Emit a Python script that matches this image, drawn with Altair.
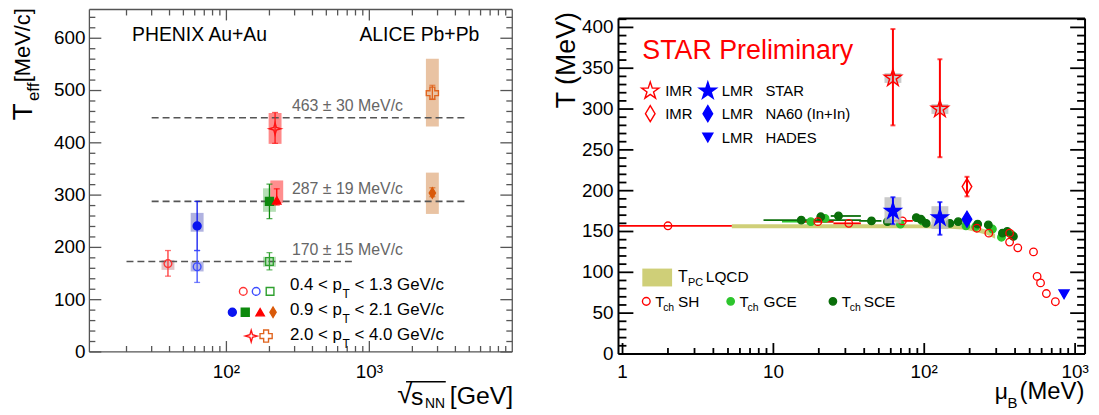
import altair as alt
import pandas as pd

FONT = "Liberation Sans"

STAR4 = "M0,-1L0.22,-0.22L1,0L0.22,0.22L0,1L-0.22,0.22L-1,0L-0.22,-0.22Z"
STAR5 = ("M0,-1L0.225,-0.309L0.951,-0.309L0.363,0.118L0.588,0.809L0,0.382"
         "L-0.588,0.809L-0.363,0.118L-0.951,-0.309L-0.225,-0.309Z")
NDIAM = "M0,-1L0.6,0L0,1L-0.6,0Z"

# ---------------- left panel data: T_eff vs sqrt(s_NN) ----------------
left_series = ["PHENIX 39 low", "PHENIX 62.4 low", "PHENIX 62.4 mid", "PHENIX 200 low",
               "PHENIX 200 mid", "STAR 200 mid", "STAR 200 high", "ALICE 2760 high", "ALICE 2760 mid"]
left_sqrt_s = [39, 62.4, 62.4, 200, 200, 225, 219, 2760, 2760]
left_teff = [169, 163, 241, 173, 288, 290, 427, 495, 304]
left_stat_lo = [145, 133, 194, 157, 255, 281, 399, 483, 297]
left_stat_hi = [194, 194, 288, 190, 321, 312, 458, 510, 314]
left_sys_lo = [157, 154, 230, 163, 268, 285, 398, 431, 264]
left_sys_hi = [176, 173, 266, 182, 313, 328, 457, 561, 343]

ref_label = ["463 ± 30 MeV/c", "287 ± 19 MeV/c", "170 ± 15 MeV/c"]
ref_T = [448, 288, 173]
ref_from = [30, 30, 20]
ref_to = [4900, 4900, 790]

left_y_major = [0, 100, 200, 300, 400, 500, 600]
left_y_labels = ["0", "100", "200", "300", "400", "500", "600"]
left_y_minor = [v for v in range(20, 655, 20) if v % 100]
left_x_major = [100, 1000]
left_x_labels = ["10\u00b2", "10\u00b3"]
left_x_minor = [20, 30, 40, 50, 60, 70, 80, 90, 200, 300, 400, 500, 600, 700, 800, 900,
                2000, 3000, 4000, 5000, 6000, 7000, 8000, 9000]

# ---------------- right panel data: T vs mu_B ----------------
imr_star_muB = [62, 127]
imr_star_T = [338, 300]
imr_star_lo = [280, 241]
imr_star_hi = [398, 361]
imr_star_sys_lo = [332, 294]
imr_star_sys_hi = [344, 306]

lmr_star_muB = [62, 127]
lmr_star_T = [175, 167]
lmr_star_lo = [159, 146]
lmr_star_hi = [192, 186]
lmr_star_sys_lo = [160, 153]
lmr_star_sys_hi = [192, 181]

na60_imr_muB = [192]
na60_imr_T = [205]
na60_imr_lo = [193]
na60_imr_hi = [217]
na60_lmr_muB = [192]
na60_lmr_T = [165]
hades_muB = [845]
hades_T = [73]

sh_muB = [2, 19.7, 31.6, 71.6, 223, 268, 368, 368, 417, 530, 560, 590, 645, 740]
sh_T = [157, 162, 160, 163, 154, 148, 148, 137, 130, 125, 95, 87, 74, 64]
sh_muB_lo = [0.94, 16, 25, 63, 223, 268, 368, 368, 417, 530, 560, 590, 645, 740]
sh_muB_hi = [5.3, 25, 38, 84, 223, 268, 368, 368, 417, 530, 560, 590, 645, 740]

gce_muB = [17.7, 22, 69.5, 97, 189, 219, 283, 325, 380]
gce_T = [162, 166, 159, 163, 157, 156, 153, 143, 146]
gce_muB_lo = [11.4, 22, 69.5, 97, 189, 219, 283, 325, 380]
gce_muB_hi = [25, 22, 69.5, 97, 189, 219, 283, 325, 380]

sce_muB = [15.3, 20.6, 27, 44.7, 57, 88.6, 95, 103, 148, 168, 226, 266, 330, 355, 390]
sce_T = [164, 168, 169, 163, 162, 167, 165, 160, 160, 162, 159, 158, 148, 150, 144]
sce_muB_lo = [8.6, 20.6, 24, 37, 57, 88.6, 95, 103, 148, 168, 226, 266, 330, 355, 390]
sce_muB_hi = [38, 20.6, 38, 52, 57, 88.6, 95, 103, 148, 168, 226, 266, 330, 355, 390]

lqcd_muB = [5.3, 20, 60, 100, 150, 190, 230, 260, 284, 295]
lqcd_T_hi = [159, 159, 159, 158.5, 158.5, 157, 154.5, 152, 148.5, 147]
lqcd_T_lo = [154, 154, 154, 154, 153.5, 152, 148.5, 146, 142.5, 141]

right_y_major = [0, 50, 100, 150, 200, 250, 300, 350, 400]
right_y_labels = ["0", "50", "100", "150", "200", "250", "300", "350", "400"]
right_y_minor = [v for v in range(10, 411, 10) if v % 50]
right_x_major = [1, 10, 100, 1000]
right_x_labels = ["1", "10", "10\u00b2", "10\u00b3"]
right_x_minor = [2, 3, 4, 5, 6, 7, 8, 9, 20, 30, 40, 50, 60, 70, 80, 90,
                 200, 300, 400, 500, 600, 700, 800, 900]

# ---------------- styles ----------------
RED, BLUE, GCE, SCE, GREY = "#ff0000", "#0000ff", "#2dc52d", "#0a6e0a", "#555555"
BAND = "#cfcf78"
left_marker_color = ["#ff3333", "#3d4dff", "#0a14f0", "#2ea02e", "#0d8a0d",
                     "#ff0000", "#ff1414", "#e0641e", "#d95a0a"]
left_box_color = ["#e2c2c6", "#b4b6e2", "#b0b2e0", "#b9e0b9", "#b5dfb5",
                  "#ff8e8e", "#ff8a8a", "#e9c3a3", "#e9c3a3"]
left_shape = ["circle", "circle", "circle", "square", "square", "triangle-up", STAR4, "cross", NDIAM]
left_size = [60, 60, 64, 60, 64, 70, 140, 150, 110]
left_filled = [False, False, True, False, True, True, False, False, True]

# ---------------- canvas geometry (one drawing surface, two panels) ----------------
CW, CH = 1091, 407
L0, L1, LT, LB = 82, 508, 0, 345          # left panel plot box
R0, R1, RT, RB = 615, 1085, 9, 347        # right panel plot box

lx = alt.Scale(type="log", domain=[11, 10000], range=[L0, L1], nice=False)
ly = alt.Scale(domain=[0, 655], range=[LB, LT], nice=False, zero=False)
rx = alt.Scale(type="log", domain=[0.94, 1164], range=[R0, R1], nice=False)
ry = alt.Scale(domain=[0, 411], range=[RB, RT], nice=False, zero=False)

PX = lambda f: alt.X(f"{f}:Q", scale=None, axis=None)
PY = lambda f: alt.Y(f"{f}:Q", scale=None, axis=None)


def notes_layer(rows, align="left", angle=None):
    df = pd.DataFrame(rows, columns=["t", "px", "py", "fs", "col"])
    kw = dict(font=FONT, align=align, baseline="middle")
    if angle is not None:
        kw["angle"] = angle
    return alt.Chart(df).mark_text(**kw).encode(
        x=PX("px"), y=PY("py"), text="t:N",
        size=alt.Size("fs:Q", scale=None), color=alt.Color("col:N", scale=None))


def symbols_layer(rows):
    df = pd.DataFrame(rows, columns=["px", "py", "shape", "fill", "stroke", "sz"])
    return alt.Chart(df).mark_point(opacity=1, strokeWidth=1.4).encode(
        x=PX("px"), y=PY("py"), shape=alt.Shape("shape:N", scale=None),
        fill=alt.Fill("fill:N", scale=None), stroke=alt.Stroke("stroke:N", scale=None),
        size=alt.Size("sz:Q", scale=None))


def segs_layer(rows, color, sw):
    df = pd.DataFrame(rows, columns=["x1", "y1", "x2", "y2"])
    return alt.Chart(df).mark_rule(color=color, strokeWidth=sw).encode(
        x=PX("x1"), y=PY("y1"), x2="x2:Q", y2="y2:Q")


def frame_rows(x0, x1, y0, y1):
    return [(x0, y0, x1, y0), (x0, y1, x1, y1), (x0, y0, x0, y1), (x1, y0, x1, y1)]


def yticks_layer(major, minor, scale, x0, x1, lmaj, lmin, color, sw):
    rows = []
    for v in major:
        rows += [(v, x0, x0 + lmaj), (v, x1 - lmaj, x1)]
    for v in minor:
        rows += [(v, x0, x0 + lmin), (v, x1 - lmin, x1)]
    df = pd.DataFrame(rows, columns=["v", "a", "b"])
    return alt.Chart(df).mark_rule(color=color, strokeWidth=sw).encode(
        y=alt.Y("v:Q", scale=scale, axis=None), x=PX("a"), x2="b:Q")


def xticks_layer(major, minor, scale, y0, y1, lmaj, lmin, color, sw, top=True):
    rows = []
    for v in major:
        rows.append((v, y1 - lmaj, y1))
        if top:
            rows.append((v, y0, y0 + lmaj))
    for v in minor:
        rows.append((v, y1 - lmin, y1))
        if top:
            rows.append((v, y0, y0 + lmin))
    df = pd.DataFrame(rows, columns=["v", "a", "b"])
    return alt.Chart(df).mark_rule(color=color, strokeWidth=sw).encode(
        x=alt.X("v:Q", scale=scale, axis=None), y=PY("a"), y2="b:Q")


def ylabels_layer(vals, labels, scale, xpos, size):
    df = pd.DataFrame({"v": vals, "lab": labels})
    return alt.Chart(df).mark_text(font=FONT, fontSize=size, align="right", baseline="middle",
                                   color="black").encode(
        y=alt.Y("v:Q", scale=scale, axis=None), x=alt.value(xpos), text="lab:N")


def xlabels_layer(vals, labels, scale, ypos, size):
    df = pd.DataFrame({"v": vals, "lab": labels})
    return alt.Chart(df).mark_text(font=FONT, fontSize=size, align="center", baseline="middle",
                                   color="black").encode(
        x=alt.X("v:Q", scale=scale, axis=None), y=alt.value(ypos), text="lab:N")


# ======================= LEFT PANEL =======================
ldf = pd.DataFrame({"series": left_series, "sqrt_s": left_sqrt_s, "T": left_teff,
                    "stat_lo": left_stat_lo, "stat_hi": left_stat_hi,
                    "sys_lo": left_sys_lo, "sys_hi": left_sys_hi})
ldf["mcolor"] = left_marker_color
ldf["bcolor"] = left_box_color
ldf["shape"] = left_shape
ldf["fill"] = [c if f else "transparent" for c, f in zip(left_marker_color, left_filled)]
ldf["msize"] = left_size
refdf = pd.DataFrame({"label": ref_label, "T": ref_T, "x0": ref_from, "x1": ref_to})

LX = alt.X("sqrt_s:Q", scale=lx, axis=None)
LYf = lambda f: alt.Y(f"{f}:Q", scale=ly, axis=None)

left_layers = [
    alt.Chart(ldf).mark_rule(strokeWidth=13).encode(
        x=LX, y=LYf("sys_lo"), y2="sys_hi:Q", color=alt.Color("bcolor:N", scale=None)),
    alt.Chart(refdf).mark_rule(color=GREY, strokeWidth=1.6, strokeDash=[7, 4]).encode(
        x=alt.X("x0:Q", scale=lx, axis=None), x2="x1:Q", y=LYf("T")),
    alt.Chart(refdf).mark_text(font=FONT, fontSize=16, color="#666666", align="left",
                               baseline="middle", dy=-12).encode(
        x=alt.value(286), y=LYf("T"), text="label:N"),
    alt.Chart(ldf).mark_rule(strokeWidth=1.3).encode(
        x=LX, y=LYf("stat_lo"), y2="stat_hi:Q", color=alt.Color("mcolor:N", scale=None)),
    alt.Chart(ldf).mark_tick(orient="horizontal", size=6, thickness=1.3).encode(
        x=LX, y=LYf("stat_lo"), color=alt.Color("mcolor:N", scale=None)),
    alt.Chart(ldf).mark_tick(orient="horizontal", size=6, thickness=1.3).encode(
        x=LX, y=LYf("stat_hi"), color=alt.Color("mcolor:N", scale=None)),
    alt.Chart(ldf).mark_point(opacity=1, strokeWidth=1.4).encode(
        x=LX, y=LYf("T"),
        shape=alt.Shape("shape:N", scale=None), fill=alt.Fill("fill:N", scale=None),
        stroke=alt.Stroke("mcolor:N", scale=None), size=alt.Size("msize:Q", scale=None)),
    yticks_layer(left_y_major, left_y_minor, ly, L0, L1, 12, 6, GREY, 1.3),
    xticks_layer(left_x_major, left_x_minor, lx, LT, LB, 11, 6, GREY, 1.3, top=True),
    segs_layer(frame_rows(L0, L1, LT, LB), GREY, 1.3),
    ylabels_layer(left_y_major, left_y_labels, ly, L0 - 4, 19),
    xlabels_layer(left_x_major, left_x_labels, lx, LB + 20, 19),
]

left_notes = [("PHENIX Au+Au", 125, 26, 19.5, "black"), ("ALICE Pb+Pb", 354, 26, 19.5, "black")]
for y, lo, hi in [(278, "0.4", "1.3"), (303, "0.9", "2.1"), (328, "2.0", "4.0")]:
    left_notes += [(f"{lo} < p", 284, y, 17, "black"), ("T", 337, y + 9, 12, "black"),
                   (f"< {hi} GeV/c", 349, y, 17, "black")]
left_notes += [("\u221a", 392, 388, 28, "black"), ("s", 406, 390, 25, "black"),
               ("NN", 420, 397, 14, "black"), ("[GeV]", 445, 389, 25, "black")]
left_layers.append(notes_layer(left_notes))
left_layers.append(notes_layer([("T", 16, 103, 28, "black"), ("eff", 26, 83, 17, "black"),
                                ("[MeV/c]", 15, 36, 22, "black")], align="center", angle=270))
left_layers.append(segs_layer([(401, 375, 441, 375)], "black", 1.6))
left_layers.append(symbols_layer([
    (237, 284, "circle", "transparent", "#ff3333", 60), (250, 284, "circle", "transparent", "#3d4dff", 60),
    (264, 284, "square", "transparent", "#2ea02e", 60),
    (226, 305, "circle", "#0a14f0", "#0a14f0", 64), (239, 305, "square", "#0d8a0d", "#0d8a0d", 64),
    (254, 305, "triangle-up", "#ff0000", "#ff0000", 70), (267, 305, NDIAM, "#d95a0a", "#d95a0a", 110),
    (245, 329, STAR4, "transparent", "#ff1414", 140), (260, 329, "cross", "transparent", "#e0641e", 150)]))

left = alt.layer(*left_layers)

# ======================= RIGHT PANEL =======================
RX = lambda f: alt.X(f"{f}:Q", scale=rx, axis=None)
RY = lambda f: alt.Y(f"{f}:Q", scale=ry, axis=None)

lqcd = pd.DataFrame({"muB": lqcd_muB, "lo": lqcd_T_lo, "hi": lqcd_T_hi})
sh = pd.DataFrame({"muB": sh_muB, "T": sh_T, "lo": sh_muB_lo, "hi": sh_muB_hi, "c": RED, "f": "transparent"})
gce = pd.DataFrame({"muB": gce_muB, "T": gce_T, "lo": gce_muB_lo, "hi": gce_muB_hi, "c": GCE, "f": GCE})
sce = pd.DataFrame({"muB": sce_muB, "T": sce_T, "lo": sce_muB_lo, "hi": sce_muB_hi, "c": SCE, "f": SCE})
chem = pd.concat([gce, sce, sh], ignore_index=True)

imr = pd.DataFrame({"muB": imr_star_muB, "T": imr_star_T, "lo": imr_star_lo, "hi": imr_star_hi,
                    "slo": imr_star_sys_lo, "shi": imr_star_sys_hi, "c": RED})
lmr = pd.DataFrame({"muB": lmr_star_muB, "T": lmr_star_T, "lo": lmr_star_lo, "hi": lmr_star_hi,
                    "slo": lmr_star_sys_lo, "shi": lmr_star_sys_hi, "c": BLUE})
na_imr = pd.DataFrame({"muB": na60_imr_muB, "T": na60_imr_T, "lo": na60_imr_lo, "hi": na60_imr_hi, "c": RED})
errs = pd.concat([imr[["muB", "lo", "hi", "c"]], lmr[["muB", "lo", "hi", "c"]], na_imr[["muB", "lo", "hi", "c"]]],
                 ignore_index=True)
boxes = pd.concat([imr[["muB", "slo", "shi"]], lmr[["muB", "slo", "shi"]]], ignore_index=True)

mk = pd.concat([
    pd.DataFrame({"muB": imr_star_muB, "T": imr_star_T, "shape": STAR5, "f": "transparent", "c": RED, "sz": 330}),
    pd.DataFrame({"muB": lmr_star_muB, "T": lmr_star_T, "shape": STAR5, "f": BLUE, "c": BLUE, "sz": 300}),
    pd.DataFrame({"muB": na60_imr_muB, "T": na60_imr_T, "shape": NDIAM, "f": "transparent", "c": RED, "sz": 260}),
    pd.DataFrame({"muB": na60_lmr_muB, "T": na60_lmr_T, "shape": NDIAM, "f": BLUE, "c": BLUE, "sz": 260}),
    pd.DataFrame({"muB": hades_muB, "T": hades_T, "shape": "triangle-down", "f": BLUE, "c": BLUE, "sz": 100}),
], ignore_index=True)

right_layers = [
    alt.Chart(lqcd).mark_area(color=BAND, opacity=1).encode(x=RX("muB"), y=RY("lo"), y2="hi:Q"),
    alt.Chart(chem).mark_rule(strokeWidth=1.8).encode(
        x=RX("lo"), x2="hi:Q", y=RY("T"), color=alt.Color("c:N", scale=None)),
    alt.Chart(chem).mark_point(opacity=1, strokeWidth=1.3, size=58, shape="circle").encode(
        x=RX("muB"), y=RY("T"),
        stroke=alt.Stroke("c:N", scale=None), fill=alt.Fill("f:N", scale=None)),
    alt.Chart(boxes).mark_rule(color="#bdbdbd", strokeWidth=17, opacity=0.8).encode(
        x=RX("muB"), y=RY("slo"), y2="shi:Q"),
    alt.Chart(errs).mark_rule(strokeWidth=2).encode(
        x=RX("muB"), y=RY("lo"), y2="hi:Q", color=alt.Color("c:N", scale=None)),
    alt.Chart(errs).mark_tick(orient="horizontal", size=5, thickness=2).encode(
        x=RX("muB"), y=RY("lo"), color=alt.Color("c:N", scale=None)),
    alt.Chart(errs).mark_tick(orient="horizontal", size=5, thickness=2).encode(
        x=RX("muB"), y=RY("hi"), color=alt.Color("c:N", scale=None)),
    alt.Chart(mk).mark_point(opacity=1, strokeWidth=1.4).encode(
        x=RX("muB"), y=RY("T"), shape=alt.Shape("shape:N", scale=None),
        fill=alt.Fill("f:N", scale=None), stroke=alt.Stroke("c:N", scale=None),
        size=alt.Size("sz:Q", scale=None)),
    yticks_layer(right_y_major, right_y_minor, ry, R0, R1, 15, 8, "black", 1.8),
    xticks_layer(right_x_major, right_x_minor, rx, RT, RB, 11, 6, "black", 1.8, top=False),
    segs_layer(frame_rows(R0, R1, RT, RB), "black", 2),
    ylabels_layer(right_y_major, right_y_labels, ry, R0 - 5, 19),
    xlabels_layer(right_x_major, right_x_labels, rx, RB + 18, 19),
]

right_notes = [("STAR Preliminary", 639, 42, 27, RED),
               ("IMR", 662, 82, 15, "black"), ("LMR", 719, 82, 15, "black"), ("STAR", 763, 82, 15, "black"),
               ("IMR", 662, 105, 15, "black"), ("LMR", 719, 105, 15, "black"),
               ("NA60 (In+In)", 763, 105, 15, "black"),
               ("LMR", 719, 129, 15, "black"), ("HADES", 763, 129, 15, "black"),
               ("T", 675, 270, 16, "black"), ("PC", 685, 276, 11, "black"), ("LQCD", 703, 270, 15.5, "black"),
               ("T", 652, 295, 15, "black"), ("ch", 660, 301, 10.5, "black"), ("SH", 675, 295, 15.5, "black"),
               ("T", 737, 295, 15, "black"), ("ch", 745, 301, 10.5, "black"), ("GCE", 761, 295, 15.5, "black"),
               ("T", 840, 295, 15, "black"), ("ch", 848, 301, 10.5, "black"), ("SCE", 862, 295, 15.5, "black"),
               ("\u03bc", 994, 385, 23, "black"), ("B", 1007, 396, 15, "black"), ("(MeV)", 1019, 385, 24, "black")]
right_layers.append(notes_layer(right_notes))
right_layers.append(notes_layer([("T (MeV)", 563, 51, 27, "black")], align="center", angle=270))
right_layers.append(segs_layer([(639, 270, 669, 270)], BAND, 18))
right_layers.append(symbols_layer([
    (647, 82, STAR5, "transparent", RED, 330), (705, 82, STAR5, BLUE, BLUE, 330),
    (647, 105, NDIAM, "transparent", RED, 260), (705, 105, NDIAM, BLUE, BLUE, 260),
    (705, 129, "triangle-down", BLUE, BLUE, 100),
    (643, 294, "circle", "transparent", RED, 60), (728, 294, "circle", GCE, GCE, 55),
    (831, 294, "circle", SCE, SCE, 55)]))

right = alt.layer(*right_layers)

chart = alt.layer(left, right).resolve_scale(x="independent", y="independent").properties(
    width=CW, height=CH, autosize=alt.AutoSizeParams(type="none"), padding=0, background="white"
).configure_view(stroke=None)

chart.save("out.html", embed_options={"renderer": "svg", "actions": False})
